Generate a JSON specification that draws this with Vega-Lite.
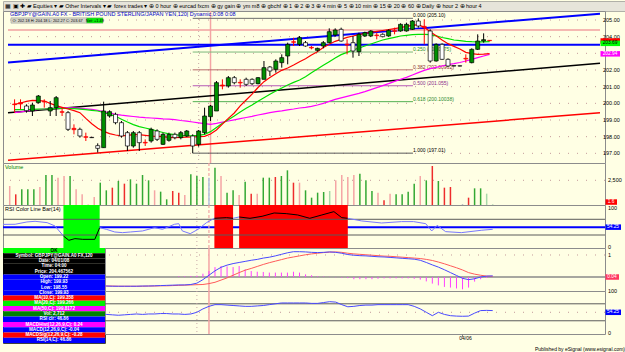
{
"$schema": "https://vega.github.io/schema/vega-lite/v6.json",
"padding": 0,
"background": "#ffffe4",
"spacing": 0,
"bounds": "flush",
"resolve": {"scale": {"x": "independent", "y": "independent", "color": "independent"}},
"config": {
  "view": {"stroke": "#8c8c8c", "strokeWidth": 1, "fill": "#ffffe4"},
  "font": "Liberation Sans",
  "legend": {"disable": true}
},
"datasets": {
  "toolbar": [{"t": "▦ ▣ ✚   ▰ Equities ▾   ▰ Other Intervals ▾   ▰ forex trades ▾   ⊕ 0 hour   ⊕ eurcad fxcm   ⊕ gy gain   ⊕ ym m8   ⊕ gbchf   ⊕ 1   ⊕ 2   ⊕ 3   ⊕ 4 min   ⊕ 5   ⊕ 10 min   ⊕ 15   ⊕ 20   ⊕ 60   ⊕ Daily   ⊕ hour 2   ⊕ hour 4"}],
  "vlines": [{"i": 31, "t": "dot"}, {"i": 33, "t": "cur"}],
  "ylabels": [
    {"panel": "price", "v": 197, "t": "197.00"}, {"panel": "price", "v": 198, "t": "198.00"}, {"panel": "price", "v": 199, "t": "199.00"},
    {"panel": "price", "v": 200, "t": "200.00"}, {"panel": "price", "v": 201, "t": "201.00"}, {"panel": "price", "v": 202, "t": "202.00"},
    {"panel": "price", "v": 204, "t": "204.00"}, {"panel": "price", "v": 205, "t": "205.00"},
    {"panel": "vol", "v": 2500, "t": "2,500"},
    {"panel": "rsibar", "v": 100, "t": "100"}, {"panel": "rsibar", "v": 0, "t": "0"},
    {"panel": "macd", "v": 1, "t": "1"},
    {"panel": "rsi", "v": 100, "t": "100"}, {"panel": "rsi", "v": 0, "t": "0"}
  ],
  "trend": [
    {"name": "blue", "i": -1.11, "p": 202.45}, {"name": "blue", "i": 98.6, "p": 205.38},
    {"name": "hblue", "i": -1.11, "p": 203.52}, {"name": "hblue", "i": 98.6, "p": 203.52},
    {"name": "black", "i": -1.11, "p": 199.44}, {"name": "black", "i": 98.6, "p": 202.40},
    {"name": "red", "i": -1.11, "p": 196.58}, {"name": "red", "i": 98.6, "p": 199.44},
    {"name": "pink", "i": -1.11, "p": 204.40}, {"name": "pink", "i": 98.6, "p": 204.40}
  ],
  "fib": [
    {"lvl": "0.000", "p": 205.10, "i0": 30, "i1": 67.1, "label": "0.000 (205.10)"},
    {"lvl": "0.250", "p": 203.0775, "i0": 30, "i1": 67.1, "label": "0.250 (203.0775)"},
    {"lvl": "0.382", "p": 202.00962, "i0": 30, "i1": 67.1, "label": "0.382 (202.00962)"},
    {"lvl": "0.500", "p": 201.055, "i0": 30, "i1": 67.1, "label": "0.500 (201.055)"},
    {"lvl": "0.618", "p": 200.10038, "i0": 30, "i1": 67.1, "label": "0.618 (200.10038)"},
    {"lvl": "1.000", "p": 197.01, "i0": 30, "i1": 67.1, "label": "1.000 (197.01)"}
  ],
  "zones": [{"i0": 8.9, "i1": 14.9, "z": "os"}, {"i0": 33.9, "i1": 37.0, "z": "ob"}, {"i0": 38.0, "i1": 56.0, "z": "ob"}],
  "tags": [
    {"panel": "price", "y": 203.74, "t": "", "s": "ma10"},
    {"panel": "price", "y": 203.60, "t": "203.69", "s": "ma20"},
    {"panel": "price", "y": 202.97, "t": "202.94", "s": "ma50"},
    {"panel": "vol", "y": 300, "t": "1.6", "s": "vol"},
    {"panel": "rsibar", "y": 50, "t": "54.25", "s": "rsi"},
    {"panel": "macd", "y": 0, "t": "0.04", "s": "macd"},
    {"panel": "rsi", "y": 50, "t": "54.25", "s": "rsi"}
  ],
  "box": [
    {"row": 1, "s": "header", "t": "OK"},
    {"row": 2, "s": "quote", "t": "Symbol: GBPJPY@GAIN.A0 FX,120"},
    {"row": 3, "s": "quote", "t": "Date: 04/01/08"},
    {"row": 4, "s": "quote", "t": "Time: 04:00"},
    {"row": 5, "s": "quote", "t": "Price: 204.467562"},
    {"row": 6, "s": "ohlc", "t": "Open: 199.22"},
    {"row": 7, "s": "ohlc", "t": "High: 199.93"},
    {"row": 8, "s": "ohlc", "t": "Low: 198.55"},
    {"row": 9, "s": "ohlc", "t": "Close: 199.93"},
    {"row": 10, "s": "ma10", "t": "MA(10,C): 199.358"},
    {"row": 11, "s": "ma20", "t": "MA(20,C): 199.266"},
    {"row": 12, "s": "ma50", "t": "MA(50,C): 199.8172"},
    {"row": 13, "s": "vol", "t": "Vol: 2,712"},
    {"row": 14, "s": "rsiclr", "t": "RSI clr: 46.86"},
    {"row": 15, "s": "macdhist", "t": "MACDHist(12,26,9,C): 0.24"},
    {"row": 16, "s": "macd", "t": "MACD(12,26,9,C): -0.04"},
    {"row": 17, "s": "macdsig", "t": "MACDSig(12,26,9,C): -0.28"},
    {"row": 18, "s": "rsi", "t": "RSI(14,C): 46.86"}
  ],
  "rsic": [
    {"i": -1.11, "v": 57, "seg": "a", "st": "n"}, {"i": 0.9, "v": 57.3, "seg": "a", "st": "n"}, {"i": 2.85, "v": 63.2, "seg": "a", "st": "n"}, {"i": 4.2, "v": 64.9, "seg": "a", "st": "n"}, {"i": 6.2, "v": 61.5, "seg": "a", "st": "n"}, {"i": 7.5, "v": 53, "seg": "a", "st": "n"}, {"i": 8.9, "v": 27.5, "seg": "a", "st": "n"},
    {"i": 8.9, "v": 27.5, "seg": "b", "st": "h"}, {"i": 9.8, "v": 16.5, "seg": "b", "st": "h"}, {"i": 10.8, "v": 20.7, "seg": "b", "st": "h"}, {"i": 12.1, "v": 19, "seg": "b", "st": "h"}, {"i": 14.1, "v": 19, "seg": "b", "st": "h"}, {"i": 14.9, "v": 48.7, "seg": "b", "st": "h"},
    {"i": 14.9, "v": 48.7, "seg": "c", "st": "n"}, {"i": 16.0, "v": 44.5, "seg": "c", "st": "n"}, {"i": 17.4, "v": 37.7, "seg": "c", "st": "n"}, {"i": 18.7, "v": 36, "seg": "c", "st": "n"}, {"i": 20.0, "v": 37.7, "seg": "c", "st": "n"}, {"i": 22.0, "v": 40.3, "seg": "c", "st": "n"}, {"i": 24.0, "v": 48.7, "seg": "c", "st": "n"}, {"i": 25.3, "v": 44.5, "seg": "c", "st": "n"}, {"i": 27.3, "v": 57.3, "seg": "c", "st": "n"}, {"i": 28.0, "v": 58.9, "seg": "c", "st": "n"}, {"i": 28.6, "v": 40.3, "seg": "c", "st": "n"}, {"i": 29.9, "v": 33.4, "seg": "c", "st": "n"}, {"i": 31.2, "v": 44.5, "seg": "c", "st": "n"}, {"i": 32.6, "v": 61.5, "seg": "c", "st": "n"}, {"i": 33.9, "v": 72.5, "seg": "c", "st": "n"},
    {"i": 33.9, "v": 72.5, "seg": "d", "st": "h"}, {"i": 35.9, "v": 74.2, "seg": "d", "st": "h"}, {"i": 37.0, "v": 72.5, "seg": "d", "st": "h"},
    {"i": 37.0, "v": 72.5, "seg": "e", "st": "n"}, {"i": 38.0, "v": 75.9, "seg": "e", "st": "n"},
    {"i": 38.0, "v": 75.9, "seg": "f", "st": "h"}, {"i": 39.8, "v": 72.5, "seg": "f", "st": "h"}, {"i": 41.8, "v": 77.6, "seg": "f", "st": "h"}, {"i": 43.8, "v": 86.1, "seg": "f", "st": "h"}, {"i": 45.8, "v": 84.4, "seg": "f", "st": "h"}, {"i": 47.7, "v": 81, "seg": "f", "st": "h"}, {"i": 49.7, "v": 72.5, "seg": "f", "st": "h"}, {"i": 51.7, "v": 81, "seg": "f", "st": "h"}, {"i": 53.7, "v": 89.5, "seg": "f", "st": "h"}, {"i": 55.0, "v": 74.2, "seg": "f", "st": "h"}, {"i": 56.0, "v": 72.5, "seg": "f", "st": "h"},
    {"i": 56.0, "v": 72.5, "seg": "g", "st": "n"}, {"i": 58.3, "v": 65.8, "seg": "g", "st": "n"}, {"i": 61.6, "v": 60.6, "seg": "g", "st": "n"}, {"i": 64.9, "v": 64.1, "seg": "g", "st": "n"}, {"i": 66.9, "v": 64.1, "seg": "g", "st": "n"}, {"i": 68.9, "v": 58.9, "seg": "g", "st": "n"}, {"i": 69.9, "v": 40.3, "seg": "g", "st": "n"}, {"i": 70.8, "v": 54.7, "seg": "g", "st": "n"}, {"i": 72.2, "v": 38.6, "seg": "g", "st": "n"}, {"i": 74.8, "v": 36, "seg": "g", "st": "n"}, {"i": 78.1, "v": 42, "seg": "g", "st": "n"}, {"i": 80, "v": 44.5, "seg": "g", "st": "n"}
  ],
  "bars": [
    {"i":0,"o":199.96,"h":200.24,"l":199.44,"c":199.92,"k":"r","v":1923,"vk":"dl","m10":199.94,"m20":199.62,"m50":199.44,"rsi":47},
    {"i":1,"o":200.04,"h":200.24,"l":199.64,"c":199.96,"k":"r","v":1080,"vk":"d","m10":200.02,"m20":199.62,"m50":199.49,"rsi":48},
    {"i":2,"o":199.84,"h":199.94,"l":199.44,"c":199.56,"k":"w","v":1586,"vk":"u","m10":200.12,"m20":199.63,"m50":199.54,"rsi":49},
    {"i":3,"o":199.54,"h":200.04,"l":199.24,"c":199.90,"k":"g","v":1586,"vk":"u","m10":200.18,"m20":199.64,"m50":199.59,"rsi":50},
    {"i":4,"o":200.04,"h":200.50,"l":199.98,"c":200.44,"k":"g","v":1586,"vk":"u","m10":200.16,"m20":199.65,"m50":199.63,"rsi":51},
    {"i":5,"o":200.12,"h":200.24,"l":199.74,"c":200.08,"k":"r","v":1822,"vk":"dl","m10":200.14,"m20":199.66,"m50":199.66,"rsi":50},
    {"i":6,"o":199.54,"h":200.14,"l":199.24,"c":199.74,"k":"g","v":3037,"vk":"u","m10":200.00,"m20":199.68,"m50":199.69,"rsi":49},
    {"i":7,"o":199.74,"h":200.44,"l":199.24,"c":200.34,"k":"g","v":3037,"vk":"u","m10":199.86,"m20":199.70,"m50":199.72,"rsi":50},
    {"i":8,"o":199.50,"h":199.74,"l":199.24,"c":199.46,"k":"r","v":2767,"vk":"dl","m10":199.76,"m20":199.70,"m50":199.74,"rsi":48},
    {"i":9,"o":199.44,"h":199.54,"l":198.34,"c":198.44,"k":"w","v":2935,"vk":"dl","m10":199.66,"m20":199.70,"m50":199.74,"rsi":45},
    {"i":10,"o":198.50,"h":198.74,"l":198.14,"c":198.42,"k":"r","v":2935,"vk":"u","m10":199.56,"m20":199.68,"m50":199.73,"rsi":43},
    {"i":11,"o":198.44,"h":198.54,"l":197.94,"c":198.04,"k":"w","v":1586,"vk":"dl","m10":199.44,"m20":199.65,"m50":199.70,"rsi":42},
    {"i":12,"o":198.00,"h":198.24,"l":197.74,"c":197.96,"k":"r","v":1080,"vk":"dl","m10":199.10,"m20":199.62,"m50":199.67,"rsi":41},
    {"i":13,"o":197.96,"h":197.98,"l":197.92,"c":197.94,"k":"w","v":60,"vk":"dl","m10":198.78,"m20":199.58,"m50":199.64,"rsi":41},
    {"i":14,"o":197.46,"h":197.60,"l":197.05,"c":197.30,"k":"w","v":810,"vk":"dl","m10":198.50,"m20":199.54,"m50":199.58,"rsi":40},
    {"i":15,"o":197.34,"h":200.10,"l":197.34,"c":199.54,"k":"g","v":2260,"vk":"u","m10":198.32,"m20":199.45,"m50":199.50,"rsi":46,"macd":-0.40,"sig":-0.40},
    {"i":16,"o":199.24,"h":199.58,"l":199.14,"c":199.50,"k":"g","v":1485,"vk":"u","m10":198.18,"m20":199.34,"m50":199.42,"rsi":45,"macd":-0.41,"sig":-0.41},
    {"i":17,"o":199.34,"h":199.44,"l":198.74,"c":198.84,"k":"w","v":1754,"vk":"d","m10":198.10,"m20":199.22,"m50":199.34,"rsi":44,"macd":-0.42,"sig":-0.41},
    {"i":18,"o":198.84,"h":198.94,"l":197.94,"c":198.04,"k":"w","v":2429,"vk":"u","m10":198.05,"m20":199.05,"m50":199.29,"rsi":43,"macd":-0.42,"sig":-0.42},
    {"i":19,"o":198.24,"h":198.34,"l":197.14,"c":197.44,"k":"w","v":2159,"vk":"d","m10":198.08,"m20":198.88,"m50":199.25,"rsi":44,"macd":-0.42,"sig":-0.42},
    {"i":20,"o":197.44,"h":198.34,"l":197.34,"c":198.24,"k":"g","v":2598,"vk":"u","m10":198.12,"m20":198.72,"m50":199.21,"rsi":45,"macd":-0.42,"sig":-0.42},
    {"i":21,"o":198.24,"h":198.34,"l":197.14,"c":197.64,"k":"w","v":2159,"vk":"u","m10":198.12,"m20":198.60,"m50":199.17,"rsi":46,"macd":-0.42,"sig":-0.42},
    {"i":22,"o":197.66,"h":197.84,"l":197.44,"c":197.62,"k":"r","v":3037,"vk":"u","m10":198.08,"m20":198.52,"m50":199.14,"rsi":45,"macd":-0.41,"sig":-0.42},
    {"i":23,"o":197.74,"h":198.54,"l":197.64,"c":198.44,"k":"g","v":2497,"vk":"u","m10":198.04,"m20":198.44,"m50":199.12,"rsi":46,"macd":-0.41,"sig":-0.41},
    {"i":24,"o":198.34,"h":198.44,"l":197.74,"c":197.84,"k":"w","v":1485,"vk":"dl","m10":198.02,"m20":198.34,"m50":199.10,"rsi":46,"macd":-0.40,"sig":-0.41},
    {"i":25,"o":197.54,"h":198.24,"l":197.50,"c":198.14,"k":"g","v":1350,"vk":"u","m10":198.00,"m20":198.25,"m50":199.07,"rsi":47,"macd":-0.39,"sig":-0.40},
    {"i":26,"o":197.78,"h":198.24,"l":197.70,"c":198.14,"k":"g","v":574,"vk":"u","m10":197.96,"m20":198.17,"m50":199.05,"rsi":47,"macd":-0.38,"sig":-0.40},
    {"i":27,"o":198.14,"h":198.24,"l":197.84,"c":197.94,"k":"w","v":1417,"vk":"d","m10":197.94,"m20":198.12,"m50":199.02,"rsi":46,"macd":-0.37,"sig":-0.39},
    {"i":28,"o":197.94,"h":198.34,"l":197.84,"c":198.24,"k":"g","v":1248,"vk":"d","m10":197.95,"m20":198.08,"m50":198.97,"rsi":46,"macd":-0.36,"sig":-0.38,"hist":0.03},
    {"i":29,"o":198.04,"h":198.40,"l":197.98,"c":198.34,"k":"g","v":1012,"vk":"dl","m10":197.97,"m20":198.05,"m50":198.93,"rsi":45,"macd":-0.36,"sig":-0.37,"hist":0.03},
    {"i":30,"o":198.04,"h":198.14,"l":197.01,"c":197.44,"k":"w","v":3104,"vk":"u","m10":197.98,"m20":198.05,"m50":198.88,"rsi":46,"macd":-0.34,"sig":-0.36,"hist":0.04},
    {"i":31,"o":197.54,"h":198.40,"l":197.40,"c":198.34,"k":"g","v":2935,"vk":"u","m10":198.00,"m20":198.08,"m50":198.83,"rsi":50,"macd":-0.28,"sig":-0.35,"hist":0.06},
    {"i":32,"o":198.24,"h":199.74,"l":198.14,"c":199.24,"k":"g","v":2834,"vk":"u","m10":198.02,"m20":198.14,"m50":198.78,"rsi":58,"macd":-0.12,"sig":-0.34,"hist":0.15},
    {"i":33,"o":199.20,"h":199.90,"l":198.94,"c":199.84,"k":"g","v":2767,"vk":"cur","m10":198.16,"m20":198.30,"m50":198.74,"rsi":64,"macd":0.08,"sig":-0.30,"hist":0.27},
    {"i":34,"o":199.54,"h":201.34,"l":199.54,"c":201.24,"k":"g","v":3779,"vk":"u","m10":198.40,"m20":198.55,"m50":198.80,"rsi":68,"macd":0.28,"sig":-0.24,"hist":0.45},
    {"i":35,"o":201.10,"h":201.44,"l":200.84,"c":201.04,"k":"r","v":2935,"vk":"dl","m10":198.75,"m20":198.80,"m50":198.87,"rsi":68,"macd":0.44,"sig":-0.14,"hist":0.50},
    {"i":36,"o":201.04,"h":201.64,"l":200.94,"c":201.54,"k":"g","v":1248,"vk":"u","m10":199.10,"m20":199.02,"m50":198.94,"rsi":67,"macd":0.54,"sig":-0.04,"hist":0.48},
    {"i":37,"o":201.54,"h":201.64,"l":201.14,"c":201.24,"k":"w","v":1485,"vk":"u","m10":199.42,"m20":199.24,"m50":199.01,"rsi":66,"macd":0.61,"sig":0.08,"hist":0.45},
    {"i":38,"o":201.26,"h":201.44,"l":200.94,"c":201.22,"k":"r","v":1012,"vk":"dl","m10":199.85,"m20":199.48,"m50":199.08,"rsi":65,"macd":0.66,"sig":0.20,"hist":0.50},
    {"i":39,"o":201.44,"h":201.54,"l":201.04,"c":201.14,"k":"w","v":2362,"vk":"u","m10":200.20,"m20":199.70,"m50":199.15,"rsi":64,"macd":0.71,"sig":0.31,"hist":0.35},
    {"i":40,"o":201.44,"h":201.50,"l":201.10,"c":201.18,"k":"w","v":1147,"vk":"d","m10":200.55,"m20":199.90,"m50":199.22,"rsi":64,"macd":0.76,"sig":0.39,"hist":0.27},
    {"i":41,"o":201.18,"h":201.58,"l":201.14,"c":201.54,"k":"g","v":1147,"vk":"dl","m10":200.95,"m20":200.12,"m50":199.30,"rsi":65,"macd":0.80,"sig":0.48,"hist":0.24},
    {"i":42,"o":201.44,"h":202.54,"l":201.44,"c":202.14,"k":"g","v":2767,"vk":"u","m10":201.30,"m20":200.34,"m50":199.37,"rsi":66,"macd":0.86,"sig":0.57,"hist":0.23},
    {"i":43,"o":202.18,"h":202.24,"l":201.64,"c":201.94,"k":"w","v":2767,"vk":"u","m10":201.55,"m20":200.54,"m50":199.44,"rsi":68,"macd":0.90,"sig":0.65,"hist":0.20},
    {"i":44,"o":202.04,"h":202.64,"l":201.84,"c":202.54,"k":"g","v":2834,"vk":"d","m10":201.78,"m20":200.74,"m50":199.50,"rsi":70,"macd":0.96,"sig":0.72,"hist":0.20},
    {"i":45,"o":202.44,"h":202.94,"l":202.14,"c":202.74,"k":"g","v":2935,"vk":"u","m10":201.98,"m20":200.92,"m50":199.55,"rsi":72,"macd":1.03,"sig":0.79,"hist":0.20},
    {"i":46,"o":202.84,"h":203.64,"l":202.34,"c":203.54,"k":"g","v":3509,"vk":"u","m10":202.12,"m20":201.10,"m50":199.61,"rsi":72,"macd":1.10,"sig":0.86,"hist":0.20},
    {"i":47,"o":203.70,"h":203.94,"l":203.44,"c":203.66,"k":"r","v":2260,"vk":"d","m10":202.30,"m20":201.26,"m50":199.66,"rsi":72,"macd":1.15,"sig":0.91,"hist":0.24},
    {"i":48,"o":203.54,"h":204.04,"l":203.44,"c":203.94,"k":"g","v":2260,"vk":"dl","m10":202.50,"m20":201.40,"m50":199.72,"rsi":72,"macd":1.15,"sig":0.96,"hist":0.20},
    {"i":49,"o":203.64,"h":203.74,"l":203.40,"c":203.44,"k":"w","v":1485,"vk":"u","m10":202.68,"m20":201.60,"m50":199.76,"rsi":72,"macd":1.14,"sig":1.01,"hist":0.12},
    {"i":50,"o":203.36,"h":203.44,"l":203.24,"c":203.32,"k":"r","v":742,"vk":"u","m10":202.90,"m20":201.84,"m50":199.82,"rsi":71,"macd":1.12,"sig":1.05,"hist":0.08},
    {"i":51,"o":203.18,"h":203.34,"l":203.10,"c":203.30,"k":"g","v":1248,"vk":"u","m10":203.10,"m20":202.06,"m50":199.90,"rsi":71,"macd":1.11,"sig":1.08,"hist":0.03},
    {"i":52,"o":203.44,"h":203.74,"l":203.30,"c":203.64,"k":"g","v":1316,"vk":"u","m10":203.35,"m20":202.28,"m50":200.00,"rsi":73,"macd":1.12,"sig":1.11,"hist":0.02},
    {"i":53,"o":203.64,"h":204.50,"l":203.60,"c":204.30,"k":"g","v":1417,"vk":"ul","m10":203.55,"m20":202.50,"m50":200.12,"rsi":75,"macd":1.14,"sig":1.13,"hist":0.01},
    {"i":54,"o":204.10,"h":204.50,"l":204.00,"c":204.40,"k":"g","v":2497,"vk":"dl","m10":203.72,"m20":202.72,"m50":200.24,"rsi":74,"macd":1.12,"sig":1.14,"hist":-0.01},
    {"i":55,"o":204.44,"h":204.54,"l":203.70,"c":203.74,"k":"w","v":3037,"vk":"dl","m10":203.84,"m20":202.92,"m50":200.33,"rsi":68,"macd":1.08,"sig":1.12,"hist":-0.03},
    {"i":56,"o":203.55,"h":203.84,"l":202.94,"c":203.50,"k":"r","v":2834,"vk":"dl","m10":203.96,"m20":203.06,"m50":200.42,"rsi":63,"macd":1.02,"sig":1.08,"hist":-0.05},
    {"i":57,"o":203.64,"h":204.04,"l":202.74,"c":203.14,"k":"w","v":3037,"vk":"dl","m10":204.04,"m20":203.20,"m50":200.51,"rsi":64,"macd":0.99,"sig":1.05,"hist":-0.10},
    {"i":58,"o":203.10,"h":204.24,"l":202.84,"c":204.14,"k":"g","v":3172,"vk":"u","m10":204.12,"m20":203.32,"m50":200.60,"rsi":66,"macd":0.97,"sig":1.03,"hist":-0.10},
    {"i":59,"o":204.04,"h":204.30,"l":203.98,"c":204.24,"k":"g","v":2497,"vk":"u","m10":204.20,"m20":203.44,"m50":200.70,"rsi":67,"macd":0.96,"sig":1.01,"hist":-0.10},
    {"i":60,"o":204.04,"h":204.40,"l":203.98,"c":204.34,"k":"g","v":1417,"vk":"u","m10":204.26,"m20":203.56,"m50":200.82,"rsi":67,"macd":0.94,"sig":0.99,"hist":-0.10},
    {"i":61,"o":204.10,"h":204.24,"l":203.84,"c":204.06,"k":"r","v":1248,"vk":"dl","m10":204.32,"m20":203.68,"m50":200.94,"rsi":68,"macd":0.92,"sig":0.97,"hist":-0.08},
    {"i":62,"o":204.14,"h":204.20,"l":203.96,"c":204.00,"k":"w","v":472,"vk":"d","m10":204.37,"m20":203.80,"m50":201.06,"rsi":68,"macd":0.91,"sig":0.95,"hist":-0.06},
    {"i":63,"o":204.04,"h":204.44,"l":204.00,"c":204.38,"k":"g","v":1147,"vk":"dl","m10":204.42,"m20":203.88,"m50":201.18,"rsi":68,"macd":0.89,"sig":0.94,"hist":-0.06},
    {"i":64,"o":204.36,"h":204.54,"l":204.14,"c":204.32,"k":"r","v":1080,"vk":"u","m10":204.48,"m20":203.96,"m50":201.32,"rsi":68,"macd":0.87,"sig":0.92,"hist":-0.06},
    {"i":65,"o":204.34,"h":204.80,"l":204.30,"c":204.74,"k":"g","v":1080,"vk":"u","m10":204.54,"m20":204.04,"m50":201.44,"rsi":68,"macd":0.85,"sig":0.90,"hist":-0.06},
    {"i":66,"o":204.34,"h":204.84,"l":204.30,"c":204.74,"k":"g","v":1350,"vk":"u","m10":204.62,"m20":204.08,"m50":201.56,"rsi":68,"macd":0.83,"sig":0.88,"hist":-0.06},
    {"i":67,"o":204.44,"h":205.00,"l":204.40,"c":204.94,"k":"g","v":2159,"vk":"u","m10":204.68,"m20":204.12,"m50":201.70,"rsi":64,"macd":0.81,"sig":0.86,"hist":-0.08},
    {"i":68,"o":204.94,"h":205.10,"l":204.54,"c":204.64,"k":"w","v":2935,"vk":"dl","m10":204.72,"m20":204.14,"m50":201.84,"rsi":58,"macd":0.76,"sig":0.84,"hist":-0.12},
    {"i":69,"o":204.62,"h":205.04,"l":203.54,"c":204.56,"k":"r","v":2497,"vk":"u","m10":204.56,"m20":204.14,"m50":201.98,"rsi":50,"macd":0.66,"sig":0.80,"hist":-0.20},
    {"i":70,"o":204.34,"h":204.44,"l":202.44,"c":202.54,"k":"w","v":3948,"vk":"d","m10":204.30,"m20":204.12,"m50":202.08,"rsi":42,"macd":0.55,"sig":0.75,"hist":-0.30},
    {"i":71,"o":202.54,"h":203.60,"l":202.50,"c":203.54,"k":"g","v":2429,"vk":"u","m10":204.06,"m20":204.05,"m50":202.16,"rsi":50,"macd":0.45,"sig":0.68,"hist":-0.38},
    {"i":72,"o":203.54,"h":203.60,"l":202.60,"c":202.64,"k":"w","v":1754,"vk":"d","m10":203.80,"m20":203.95,"m50":202.24,"rsi":45,"macd":0.33,"sig":0.60,"hist":-0.45},
    {"i":73,"o":202.64,"h":202.70,"l":202.20,"c":202.24,"k":"w","v":1822,"vk":"d","m10":203.58,"m20":203.88,"m50":202.32,"rsi":42,"macd":0.20,"sig":0.51,"hist":-0.48},
    {"i":74,"o":202.26,"h":202.28,"l":202.22,"c":202.24,"k":"w","v":0,"vk":"gray","m10":203.42,"m20":203.80,"m50":202.38,"rsi":41,"macd":0.07,"sig":0.42,"hist":-0.52},
    {"i":75,"o":202.25,"h":202.27,"l":202.22,"c":202.24,"k":"w","v":100,"vk":"gray","m10":203.26,"m20":203.76,"m50":202.45,"rsi":40.6,"macd":-0.06,"sig":0.32,"hist":-0.56},
    {"i":76,"o":202.70,"h":202.94,"l":202.44,"c":202.66,"k":"r","v":742,"vk":"d","m10":203.06,"m20":203.72,"m50":202.54,"rsi":41,"macd":-0.12,"sig":0.20,"hist":-0.48},
    {"i":77,"o":202.44,"h":203.30,"l":202.40,"c":203.24,"k":"g","v":1687,"vk":"u","m10":202.98,"m20":203.70,"m50":202.64,"rsi":48,"macd":-0.08,"sig":0.13,"hist":-0.21},
    {"i":78,"o":203.24,"h":204.14,"l":203.20,"c":203.74,"k":"g","v":1687,"vk":"u","m10":202.94,"m20":203.69,"m50":202.74,"rsi":54,"macd":0.00,"sig":0.08,"hist":-0.10},
    {"i":79,"o":203.74,"h":204.20,"l":203.64,"c":203.82,"k":"g","v":1147,"vk":"ul","m10":202.95,"m20":203.69,"m50":202.84,"rsi":54.5,"macd":0.04,"sig":0.04,"hist":-0.04},
    {"i":80,"o":203.78,"h":203.80,"l":203.72,"c":203.76,"k":"r","v":67,"vk":"ul","m10":202.98,"m20":203.70,"m50":202.94,"rsi":54,"macd":0.05,"sig":0.03,"hist":0.01}
  ]
},
"vconcat": [
  {
    "width": 625, "height": 10,
    "view": {"fill": "#e6e4da", "stroke": "#b0b0a8"},
    "data": {"name": "toolbar"},
    "mark": {"type": "text", "align": "left", "baseline": "middle", "fontSize": 5.5, "dx": 2, "color": "#000000"},
    "encoding": {
      "x": {"datum": 0, "type": "quantitative", "scale": {"domain": [0, 1]}, "axis": null},
      "text": {"field": "t"}
    }
  },
  {
    "width": 602, "height": 152,
    "resolve": {"scale": {"color": "independent", "fill": "independent", "stroke": "independent"}},
    "layer": [
      {"data": {"values": [{"lv": 197}, {"lv": 198}, {"lv": 199}, {"lv": 200}, {"lv": 201}, {"lv": 202}, {"lv": 203}, {"lv": 204}, {"lv": 205}]},
       "mark": {"type": "rule", "color": "#c49a9a", "strokeDash": [1, 8]},
       "encoding": {"y": {"field": "lv", "type": "quantitative", "scale": {"domain": [196.42, 205.54], "nice": false, "zero": false}, "axis": null}}},
      {"data": {"name": "vlines"}, "transform": [{"filter": "datum.t === 'dot'"}], "mark": {"type": "rule", "color": "#c8a8a8", "strokeDash": [1, 3]},
       "encoding": {"x": {"field": "i", "type": "quantitative", "scale": {"domain": [-1.11, 98.6], "nice": false, "zero": false}, "axis": null}}},
      {"data": {"name": "vlines"}, "transform": [{"filter": "datum.t === 'cur'"}], "mark": {"type": "rule", "color": "#f4a4a4", "strokeWidth": 1.5},
       "encoding": {"x": {"field": "i", "type": "quantitative", "axis": null}}},
      {"data": {"name": "fib"}, "mark": {"type": "rule", "strokeWidth": 1},
       "encoding": {
         "x": {"field": "i0", "type": "quantitative", "axis": null}, "x2": {"field": "i1"},
         "y": {"field": "p", "type": "quantitative", "axis": null},
         "color": {"field": "lvl", "type": "nominal", "scale": {"domain": ["0.000", "0.250", "0.382", "0.500", "0.618", "1.000"], "range": ["#6a6a6a", "#7cb87c", "#b86a6a", "#b65ab6", "#52b052", "#5a5a5a"]}}
       }},
      {"data": {"name": "fib"}, "mark": {"type": "text", "align": "left", "baseline": "alphabetic", "dy": -1, "fontSize": 5},
       "encoding": {
         "x": {"field": "i1", "type": "quantitative", "axis": null},
         "y": {"field": "p", "type": "quantitative", "axis": null},
         "text": {"field": "label"},
         "color": {"field": "lvl", "type": "nominal", "scale": {"domain": ["0.000", "0.250", "0.382", "0.500", "0.618", "1.000"], "range": ["#000000", "#2e8b2e", "#8b2e2e", "#8b2e8b", "#2e8b2e", "#000000"]}}
       }},
      {"data": {"name": "trend"}, "transform": [{"filter": "datum.name === 'blue' || datum.name === 'hblue'"}], "mark": {"type": "line", "strokeWidth": 2, "color": "#0000ff"},
       "encoding": {"x": {"field": "i", "type": "quantitative", "axis": null}, "y": {"field": "p", "type": "quantitative", "axis": null}, "detail": {"field": "name"}}},
      {"data": {"name": "trend"}, "transform": [{"filter": "datum.name !== 'blue' && datum.name !== 'hblue'"}], "mark": {"type": "line", "strokeWidth": 1.5},
       "encoding": {"x": {"field": "i", "type": "quantitative", "axis": null}, "y": {"field": "p", "type": "quantitative", "axis": null},
                    "color": {"field": "name", "type": "nominal", "scale": {"domain": ["black", "red", "pink"], "range": ["#000000", "#ff0000", "#f2a0a0"]}}}},
      {"data": {"name": "bars"}, "mark": {"type": "line", "color": "#ff00ff", "strokeWidth": 1.2},
       "encoding": {"x": {"field": "i", "type": "quantitative", "axis": null}, "y": {"field": "m50", "type": "quantitative", "axis": null}}},
      {"data": {"name": "bars"}, "mark": {"type": "line", "color": "#00e000", "strokeWidth": 1.2},
       "encoding": {"x": {"field": "i", "type": "quantitative", "axis": null}, "y": {"field": "m20", "type": "quantitative", "axis": null}}},
      {"data": {"name": "bars"}, "mark": {"type": "line", "color": "#ff0000", "strokeWidth": 1.2},
       "encoding": {"x": {"field": "i", "type": "quantitative", "axis": null}, "y": {"field": "m10", "type": "quantitative", "axis": null}}},
      {"data": {"name": "bars"}, "mark": {"type": "rule", "strokeWidth": 1},
       "encoding": {"x": {"field": "i", "type": "quantitative", "axis": null}, "y": {"field": "l", "type": "quantitative", "axis": null}, "y2": {"field": "h"},
                    "color": {"field": "k", "type": "nominal", "scale": {"domain": ["g", "w", "r"], "range": ["#000000", "#000000", "#ff0000"]}}}},
      {"data": {"name": "bars"}, "mark": {"type": "bar", "width": 4, "strokeWidth": 0.7},
       "encoding": {"x": {"field": "i", "type": "quantitative", "axis": null}, "y": {"field": "o", "type": "quantitative", "axis": null}, "y2": {"field": "c"},
                    "fill": {"field": "k", "type": "nominal", "scale": {"domain": ["g", "w", "r"], "range": ["#008f00", "#ffffff", "#ff0000"]}},
                    "stroke": {"field": "k", "type": "nominal", "scale": {"domain": ["g", "w", "r"], "range": ["#000000", "#000000", "#ff0000"]}}}},
      {"data": {"values": [{}]}, "mark": {"type": "text", "align": "left", "baseline": "top", "dx": 2, "dy": 1, "fontSize": 5.5, "color": "#0000cc"},
       "encoding": {"x": {"datum": -1.11, "type": "quantitative", "axis": null}, "y": {"datum": 205.54, "type": "quantitative", "axis": null},
                    "text": {"value": "GBPJPY@GAIN.A0 FX - BRITISH POUND STERLING/JAPAN YEN,120| Dynamic,0:08 0:08"}}},
      {"data": {"values": [{}]}, "mark": {"type": "rect", "color": "#d6d6cc", "stroke": "#9a9a90", "strokeWidth": 0.5},
       "encoding": {"x": {"datum": -0.61, "type": "quantitative", "axis": null}, "x2": {"datum": 12.14}, "y": {"datum": 205.13, "type": "quantitative", "axis": null}, "y2": {"datum": 204.81}}},
      {"data": {"values": [{}]}, "mark": {"type": "text", "align": "left", "baseline": "middle", "dx": 1.5, "fontSize": 3.9, "color": "#000000"},
       "encoding": {"x": {"datum": -0.61, "type": "quantitative", "axis": null}, "y": {"datum": 204.97, "type": "quantitative", "axis": null},
                    "text": {"value": "O: 202.18   H: 204.18   L: 202.27   C: 203.67"}}},
      {"data": {"values": [{}]}, "mark": {"type": "rect", "color": "#00ee00", "stroke": "#9a9a90", "strokeWidth": 0.5},
       "encoding": {"x": {"datum": 12.14, "type": "quantitative", "axis": null}, "x2": {"datum": 14.9}, "y": {"datum": 205.13, "type": "quantitative", "axis": null}, "y2": {"datum": 204.81}}},
      {"data": {"values": [{}]}, "mark": {"type": "text", "align": "center", "baseline": "middle", "fontSize": 3.9, "color": "#000000"},
       "encoding": {"x": {"datum": 13.52, "type": "quantitative", "axis": null}, "y": {"datum": 204.97, "type": "quantitative", "axis": null}, "text": {"value": "Net: +1.49"}}},
      {"data": {"name": "ylabels"}, "transform": [{"filter": "datum.panel === 'price'"}], "mark": {"type": "text", "align": "left", "baseline": "middle", "dx": 3, "fontSize": 5.5, "color": "#000000"},
       "encoding": {"x": {"datum": 98.6, "type": "quantitative", "axis": null}, "y": {"field": "v", "type": "quantitative", "axis": null}, "text": {"field": "t"}}},
      {"data": {"name": "tags"}, "transform": [{"filter": "datum.panel === 'price'"}], "mark": {"type": "point", "shape": "M0.1,-0.55H4V0.55H0.1Z", "size": 100, "filled": true, "opacity": 1},
       "encoding": {"x": {"datum": 98.6, "type": "quantitative", "axis": null}, "y": {"field": "y", "type": "quantitative", "axis": null},
                    "color": {"field": "s", "type": "nominal", "scale": {"domain": ["ma10", "ma20", "ma50"], "range": ["#ff0000", "#00ff00", "#ff00ff"]}}}},
      {"data": {"name": "tags"}, "transform": [{"filter": "datum.panel === 'price' && datum.t !== ''"}], "mark": {"type": "text", "dx": 10, "align": "center", "baseline": "middle", "fontSize": 4.8},
       "encoding": {"x": {"datum": 98.6, "type": "quantitative", "axis": null}, "y": {"field": "y", "type": "quantitative", "axis": null}, "text": {"field": "t"},
                    "color": {"condition": {"test": "datum.s === 'ma20'", "value": "#000000"}, "value": "#ffffff"}}}
    ]
  },
  {
    "width": 602, "height": 42,
    "layer": [
      {"data": {"values": [{"lv": 2500}]}, "mark": {"type": "rule", "color": "#c49a9a", "strokeDash": [1, 8]},
       "encoding": {"y": {"field": "lv", "type": "quantitative", "scale": {"domain": [0, 4251], "nice": false, "zero": false}, "axis": null}}},
      {"data": {"name": "vlines"}, "transform": [{"filter": "datum.t === 'dot'"}], "mark": {"type": "rule", "color": "#c8a8a8", "strokeDash": [1, 3]},
       "encoding": {"x": {"field": "i", "type": "quantitative", "scale": {"domain": [-1.11, 98.6], "nice": false, "zero": false}, "axis": null}}},
      {"data": {"name": "vlines"}, "transform": [{"filter": "datum.t === 'cur'"}], "mark": {"type": "rule", "color": "#f4a4a4", "strokeWidth": 1.2, "strokeDash": [3, 2]},
       "encoding": {"x": {"field": "i", "type": "quantitative", "axis": null}}},
      {"data": {"name": "bars"}, "mark": {"type": "rule", "strokeWidth": 1.5},
       "encoding": {
         "x": {"field": "i", "type": "quantitative", "axis": null},
         "y": {"field": "v", "type": "quantitative", "axis": null},
         "y2": {"datum": 0},
         "color": {"field": "vk", "type": "nominal", "scale": {"domain": ["u", "d", "ul", "dl", "cur", "gray"], "range": ["#33a833", "#ee2c2c", "#a8d8a8", "#f5a5a5", "#b0c4e0", "#c0c0c0"]}}
       }},
      {"data": {"values": [{}]}, "mark": {"type": "text", "align": "left", "baseline": "top", "dx": 2, "dy": 2, "fontSize": 5.5, "color": "#008000"},
       "encoding": {"x": {"datum": -1.11, "type": "quantitative", "axis": null}, "y": {"datum": 4251, "type": "quantitative", "axis": null}, "text": {"value": "Volume"}}},
      {"data": {"name": "ylabels"}, "transform": [{"filter": "datum.panel === 'vol'"}], "mark": {"type": "text", "align": "left", "baseline": "middle", "dx": 3, "fontSize": 5.5, "color": "#000000"},
       "encoding": {"x": {"datum": 98.6, "type": "quantitative", "axis": null}, "y": {"field": "v", "type": "quantitative", "axis": null}, "text": {"field": "t"}}},
      {"data": {"name": "tags"}, "transform": [{"filter": "datum.panel === 'vol'"}], "mark": {"type": "point", "shape": "M0.1,-0.55H2.4V0.55H0.1Z", "size": 100, "filled": true, "opacity": 1, "color": "#ff0000"},
       "encoding": {"x": {"datum": 98.6, "type": "quantitative", "axis": null}, "y": {"field": "y", "type": "quantitative", "axis": null}}},
      {"data": {"name": "tags"}, "transform": [{"filter": "datum.panel === 'vol'"}], "mark": {"type": "text", "dx": 6, "align": "center", "baseline": "middle", "fontSize": 4.8, "color": "#ffffff"},
       "encoding": {"x": {"datum": 98.6, "type": "quantitative", "axis": null}, "y": {"field": "y", "type": "quantitative", "axis": null}, "text": {"field": "t"}}}
    ]
  },
  {
    "width": 602, "height": 43,
    "resolve": {"scale": {"color": "independent"}},
    "layer": [
      {"data": {"values": [{"lv": 50}]}, "mark": {"type": "rule", "color": "#0000ff", "strokeWidth": 2},
       "encoding": {"y": {"field": "lv", "type": "quantitative", "scale": {"domain": [-3.1, 106.4], "nice": false, "zero": false}, "axis": null}}},
      {"data": {"name": "zones"}, "mark": {"type": "rect"},
       "encoding": {"x": {"field": "i0", "type": "quantitative", "scale": {"domain": [-1.11, 98.6], "nice": false, "zero": false}, "axis": null}, "x2": {"field": "i1"},
                    "color": {"field": "z", "type": "nominal", "scale": {"domain": ["os", "ob"], "range": ["#00ff00", "#ff0000"]}}}},
      {"data": {"values": [{"lv": 70}, {"lv": 30}]}, "mark": {"type": "rule", "color": "#5a5a5a", "strokeWidth": 1},
       "encoding": {"y": {"field": "lv", "type": "quantitative", "axis": null}}},
      {"data": {"name": "vlines"}, "transform": [{"filter": "datum.t === 'dot'"}], "mark": {"type": "rule", "color": "#c8a8a8", "strokeDash": [1, 3]},
       "encoding": {"x": {"field": "i", "type": "quantitative", "axis": null}}},
      {"data": {"name": "vlines"}, "transform": [{"filter": "datum.t === 'cur'"}], "mark": {"type": "rule", "color": "#f4a4a4", "strokeWidth": 1.2, "strokeDash": [3, 2]},
       "encoding": {"x": {"field": "i", "type": "quantitative", "axis": null}}},
      {"data": {"name": "rsic"}, "mark": {"type": "line", "strokeWidth": 1},
       "encoding": {"x": {"field": "i", "type": "quantitative", "axis": null}, "y": {"field": "v", "type": "quantitative", "axis": null},
                    "detail": {"field": "seg"},
                    "color": {"field": "st", "type": "nominal", "scale": {"domain": ["n", "h"], "range": ["#7878ff", "#000000"]}}}},
      {"data": {"values": [{}]}, "mark": {"type": "text", "align": "left", "baseline": "top", "dx": 2, "dy": 2, "fontSize": 5.5, "color": "#000000"},
       "encoding": {"x": {"datum": -1.11, "type": "quantitative", "axis": null}, "y": {"datum": 106.4, "type": "quantitative", "axis": null}, "text": {"value": "RSI Color Line Bar(14)"}}},
      {"data": {"name": "ylabels"}, "transform": [{"filter": "datum.panel === 'rsibar'"}], "mark": {"type": "text", "align": "left", "baseline": "middle", "dx": 3, "fontSize": 5.5, "color": "#000000"},
       "encoding": {"x": {"datum": 98.6, "type": "quantitative", "axis": null}, "y": {"field": "v", "type": "quantitative", "axis": null}, "text": {"field": "t"}}},
      {"data": {"name": "tags"}, "transform": [{"filter": "datum.panel === 'rsibar'"}], "mark": {"type": "point", "shape": "M0.1,-0.55H3.2V0.55H0.1Z", "size": 100, "filled": true, "opacity": 1, "color": "#0000ff"},
       "encoding": {"x": {"datum": 98.6, "type": "quantitative", "axis": null}, "y": {"field": "y", "type": "quantitative", "axis": null}}},
      {"data": {"name": "tags"}, "transform": [{"filter": "datum.panel === 'rsibar'"}], "mark": {"type": "text", "dx": 8, "align": "center", "baseline": "middle", "fontSize": 4.8, "color": "#ffffff"},
       "encoding": {"x": {"datum": 98.6, "type": "quantitative", "axis": null}, "y": {"field": "y", "type": "quantitative", "axis": null}, "text": {"field": "t"}}}
    ]
  },
  {
    "spacing": 0,
    "bounds": "flush",
    "resolve": {"scale": {"x": "independent", "y": "independent", "color": "independent"}},
    "hconcat": [
      {
        "width": 102, "height": 95,
        "view": {"stroke": "#404040", "fill": null},
        "data": {"name": "box"},
        "resolve": {"scale": {"color": "independent"}},
        "encoding": {"y": {"field": "row", "type": "ordinal", "axis": null, "scale": {"paddingInner": 0, "paddingOuter": 0}}},
        "layer": [
          {"mark": {"type": "rect"},
           "encoding": {"color": {"field": "s", "type": "nominal", "scale": {"domain": ["header", "quote", "ohlc", "ma10", "ma20", "ma50", "vol", "rsiclr", "macdhist", "macd", "macdsig", "rsi"], "range": ["#00ff00", "#000000", "#0000ff", "#ff0000", "#00ee00", "#ff00ff", "#008000", "#0000ff", "#ff00ff", "#0000ff", "#ff0000", "#0000ff"]}}}},
          {"mark": {"type": "text", "fontSize": 4.6, "fontWeight": "bold", "baseline": "middle"},
           "encoding": {"text": {"field": "t"}, "color": {"condition": {"test": "datum.s === 'header'", "value": "#000000"}, "value": "#ffffff"}}}
        ]
      },
      {
        "spacing": 0,
        "bounds": "flush",
        "resolve": {"scale": {"x": "independent", "y": "independent", "color": "independent"}},
        "vconcat": [
          {
            "width": 500, "height": 43,
            "layer": [
              {"data": {"values": [{"lv": 1}]}, "mark": {"type": "rule", "color": "#c49a9a", "strokeDash": [1, 8]},
               "encoding": {"y": {"field": "lv", "type": "quantitative", "scale": {"domain": [-0.636, 1.318], "nice": false, "zero": false}, "axis": null}}},
              {"data": {"values": [{"lv": 0}]}, "mark": {"type": "rule", "color": "#8a8a8a", "strokeWidth": 1.5},
               "encoding": {"y": {"field": "lv", "type": "quantitative", "axis": null}}},
              {"data": {"name": "vlines"}, "transform": [{"filter": "datum.t === 'dot'"}], "mark": {"type": "rule", "color": "#c8a8a8", "strokeDash": [1, 3]},
               "encoding": {"x": {"field": "i", "type": "quantitative", "scale": {"domain": [15.78, 98.6], "nice": false, "zero": false}, "axis": null}}},
              {"data": {"name": "vlines"}, "transform": [{"filter": "datum.t === 'cur'"}], "mark": {"type": "rule", "color": "#f4a4a4", "strokeWidth": 1.5},
               "encoding": {"x": {"field": "i", "type": "quantitative", "axis": null}}},
              {"data": {"name": "bars"}, "mark": {"type": "rule", "color": "#ff40ff", "strokeWidth": 1, "clip": true},
               "encoding": {"x": {"field": "i", "type": "quantitative", "axis": null}, "y": {"field": "hist", "type": "quantitative", "axis": null}, "y2": {"datum": 0}}},
              {"data": {"name": "bars"}, "mark": {"type": "line", "color": "#ff5a5a", "strokeWidth": 1, "clip": true},
               "encoding": {"x": {"field": "i", "type": "quantitative", "axis": null}, "y": {"field": "sig", "type": "quantitative", "axis": null}}},
              {"data": {"name": "bars"}, "mark": {"type": "line", "color": "#4848ff", "strokeWidth": 1, "clip": true},
               "encoding": {"x": {"field": "i", "type": "quantitative", "axis": null}, "y": {"field": "macd", "type": "quantitative", "axis": null}}},
              {"data": {"name": "ylabels"}, "transform": [{"filter": "datum.panel === 'macd'"}], "mark": {"type": "text", "align": "left", "baseline": "middle", "dx": 3, "fontSize": 5.5, "color": "#000000"},
               "encoding": {"x": {"datum": 98.6, "type": "quantitative", "axis": null}, "y": {"field": "v", "type": "quantitative", "axis": null}, "text": {"field": "t"}}},
              {"data": {"name": "tags"}, "transform": [{"filter": "datum.panel === 'macd'"}], "mark": {"type": "point", "shape": "M0.1,-0.55H2.8V0.55H0.1Z", "size": 100, "filled": true, "opacity": 1, "color": "#ff3860"},
               "encoding": {"x": {"datum": 98.6, "type": "quantitative", "axis": null}, "y": {"field": "y", "type": "quantitative", "axis": null}}},
              {"data": {"name": "tags"}, "transform": [{"filter": "datum.panel === 'macd'"}], "mark": {"type": "text", "dx": 7, "align": "center", "baseline": "middle", "fontSize": 4.8, "color": "#ffffff"},
               "encoding": {"x": {"datum": 98.6, "type": "quantitative", "axis": null}, "y": {"field": "y", "type": "quantitative", "axis": null}, "text": {"field": "t"}}}
            ]
          },
          {
            "width": 500, "height": 43,
            "layer": [
              {"data": {"values": [{"lv": 70}, {"lv": 30}]}, "mark": {"type": "rule", "color": "#5a5a5a", "strokeWidth": 1},
               "encoding": {"y": {"field": "lv", "type": "quantitative", "scale": {"domain": [-1.2, 100.2], "nice": false, "zero": false}, "axis": null}}},
              {"data": {"values": [{"lv": 50}]}, "mark": {"type": "rule", "color": "#c49a9a", "strokeDash": [1, 8]},
               "encoding": {"y": {"field": "lv", "type": "quantitative", "axis": null}}},
              {"data": {"name": "vlines"}, "transform": [{"filter": "datum.t === 'dot'"}], "mark": {"type": "rule", "color": "#c8a8a8", "strokeDash": [1, 3]},
               "encoding": {"x": {"field": "i", "type": "quantitative", "scale": {"domain": [15.78, 98.6], "nice": false, "zero": false}, "axis": null}}},
              {"data": {"name": "vlines"}, "transform": [{"filter": "datum.t === 'cur'"}], "mark": {"type": "rule", "color": "#f4a4a4", "strokeWidth": 1.5},
               "encoding": {"x": {"field": "i", "type": "quantitative", "axis": null}}},
              {"data": {"name": "bars"}, "mark": {"type": "line", "color": "#4848ff", "strokeWidth": 1, "clip": true},
               "encoding": {"x": {"field": "i", "type": "quantitative", "axis": null}, "y": {"field": "rsi", "type": "quantitative", "axis": null}}},
              {"data": {"name": "ylabels"}, "transform": [{"filter": "datum.panel === 'rsi'"}], "mark": {"type": "text", "align": "left", "baseline": "middle", "dx": 3, "fontSize": 5.5, "color": "#000000"},
               "encoding": {"x": {"datum": 98.6, "type": "quantitative", "axis": null}, "y": {"field": "v", "type": "quantitative", "axis": null}, "text": {"field": "t"}}},
              {"data": {"values": [{"d": "04/06"}]}, "mark": {"type": "rule", "color": "#808080", "y2Offset": 3},
               "encoding": {"x": {"datum": 75, "type": "quantitative", "axis": null}, "y": {"datum": -1.2, "type": "quantitative", "axis": null}, "y2": {"datum": -1.2}}},
              {"data": {"values": [{"d": "04/06"}]}, "mark": {"type": "text", "align": "center", "baseline": "top", "dy": 2, "fontSize": 5, "color": "#000000"},
               "encoding": {"x": {"datum": 75.5, "type": "quantitative", "axis": null}, "y": {"datum": -1.2, "type": "quantitative", "axis": null}, "text": {"field": "d"}}},
              {"data": {"values": [{}]}, "mark": {"type": "text", "align": "right", "baseline": "top", "dx": 20, "dy": 13, "fontSize": 5, "color": "#000000"},
               "encoding": {"x": {"datum": 98.6, "type": "quantitative", "axis": null}, "y": {"datum": -1.2, "type": "quantitative", "axis": null}, "text": {"value": "Published by eSignal (www.esignal.com)"}}},
              {"data": {"name": "tags"}, "transform": [{"filter": "datum.panel === 'rsi'"}], "mark": {"type": "point", "shape": "M0.1,-0.55H3.2V0.55H0.1Z", "size": 100, "filled": true, "opacity": 1, "color": "#0000ff"},
               "encoding": {"x": {"datum": 98.6, "type": "quantitative", "axis": null}, "y": {"field": "y", "type": "quantitative", "axis": null}}},
              {"data": {"name": "tags"}, "transform": [{"filter": "datum.panel === 'rsi'"}], "mark": {"type": "text", "dx": 8, "align": "center", "baseline": "middle", "fontSize": 4.8, "color": "#ffffff"},
               "encoding": {"x": {"datum": 98.6, "type": "quantitative", "axis": null}, "y": {"field": "y", "type": "quantitative", "axis": null}, "text": {"field": "t"}}}
            ]
          }
        ]
      }
    ]
  }
]
}
